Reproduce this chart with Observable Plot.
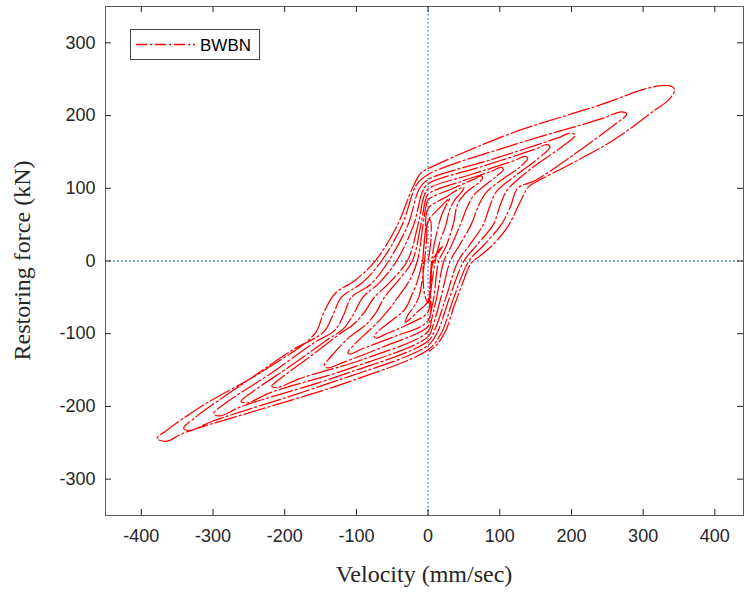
<!DOCTYPE html>
<html>
<head>
<meta charset="utf-8">
<script src="https://cdn.jsdelivr.net/npm/d3@7"></script>
<script src="https://cdn.jsdelivr.net/npm/@observablehq/plot@0.6"></script>
<style>
  body { margin: 0; background: #fff; }
  #chart { width: 744px; height: 594px; }
</style>
</head>
<body>
<div id="chart"></div>
<script>
// Tick values and series name
const xTicks = [-400, -300, -200, -100, 0, 100, 200, 300, 400];
const yTicks = [-300, -200, -100, 0, 100, 200, 300];
const seriesName = "BWBN";

// Restoring force (kN) against velocity (mm/sec), as [velocity, force] pairs,
// one array per hysteresis cycle, in time order.
const startup = [[0,0],[4,30],[3,57],[-1,52],[-6,20],[-7,-15],[-5,-45],[0,-58],[4,-40],[6,-5],[20,20],[6,0],[0,-55]];
const loop1 = [[-15,-70],[-28,-82],[-32,-84],[-29,-76],[-20,-63],[-13,-50],[-8,-25],[-5,0],[-2,30],[0,55],[15,72],[27,84],[30,86],[27,80],[20,66],[15,50],[9,25],[5,0],[2,-40],[0,-70]];
const loop2 = [[-30,-88],[-60,-101],[-72,-106],[-75,-104],[-70,-97],[-55,-85],[-32,-66],[-24,-50],[-14,-25],[-8,0],[-4,40],[0,72],[25,88],[45,100],[50,101],[46,94],[38,85],[30,70],[25,50],[16,25],[10,0],[4,-40],[0,-82]];
const loop3 = [[-50,-105],[-95,-122],[-108,-128],[-112,-126],[-105,-117],[-85,-98],[-68,-82],[-55,-67],[-42,-50],[-25,-25],[-15,0],[-7,50],[-3,75],[0,84],[35,100],[65,113],[74,117],[76,114],[70,107],[55,96],[42,80],[35,50],[25,20],[15,0],[8,-50],[3,-75],[0,-90]];
const loop4 = [[-60,-117],[-120,-140],[-140,-147],[-145,-144],[-136,-132],[-110,-105],[-85,-86],[-72,-70],[-61,-50],[-40,-25],[-22,0],[-10,50],[-4,82],[0,92],[45,109],[90,124],[102,129],[105,126],[96,117],[78,103],[65,92],[55,75],[45,50],[32,20],[22,0],[12,-50],[5,-80],[0,-97]];
const loop5 = [[-90,-135],[-180,-162],[-210,-174],[-218,-172],[-205,-161],[-160,-128],[-120,-98],[-105,-88],[-90,-72],[-75,-50],[-52,-28],[-29,0],[-14,50],[-6,88],[0,99],[60,119],[120,138],[135,144],[139,141],[128,129],[100,110],[80,93],[70,75],[60,50],[44,22],[31,0],[18,-50],[7,-88],[0,-104]];
const loop6 = [[-110,-148],[-220,-181],[-252,-195],[-261,-193],[-245,-180],[-190,-143],[-140,-108],[-118,-93],[-105,-75],[-91,-50],[-68,-30],[-44,0],[-20,50],[-8,95],[0,106],[75,130],[150,154],[165,160],[170,157],[155,142],[120,116],[95,95],[86,75],[77,50],[58,22],[42,0],[25,-50],[10,-93],[0,-110]];
const loop7 = [[-130,-160],[-260,-200],[-290,-213],[-299,-210],[-282,-195],[-220,-155],[-160,-113],[-130,-95],[-118,-75],[-107,-50],[-80,-32],[-55,0],[-28,50],[-12,100],[0,112],[90,140],[180,169],[199,176],[205,173],[188,158],[145,128],[110,97],[100,75],[91,50],[68,22],[50,0],[30,-50],[13,-98],[0,-116]];
const loop8 = [[-150,-172],[-300,-220],[-333,-233],[-341,-230],[-322,-213],[-260,-170],[-190,-123],[-145,-97],[-133,-75],[-121,-50],[-92,-30],[-65,0],[-36,50],[-16,105],[0,119],[120,160],[240,195],[270,205],[277,202],[258,186],[200,144],[150,111],[125,100],[115,75],[102,50],[78,22],[57,0],[36,-50],[18,-100],[0,-122]];
const loop9 = [[-113,-167],[-227,-202],[-342,-237],[-365,-248],[-378,-244],[-365,-233],[-313,-198],[-228,-150],[-158,-100],[-146,-72],[-130,-45],[-101,-26],[-73,1],[-44,47],[-21,102],[-10,121],[2,128],[117,176],[232,212],[317,240],[340,240],[344,235],[336,222],[317,208],[260,167],[202,135],[151,109],[140,102],[128,80],[111,47],[88,20],[71,6],[60,-3],[48,-31],[36,-63],[25,-95],[14,-113],[2,-124]];

const response = [startup, loop1, loop2, loop3, loop4, loop5, loop6, loop7, loop8, loop9]
  .flat()
  .map(([v, f]) => ({velocity: v, force: f}));

// Layout
const W = 744, H = 594;
const mL = 105, mR = 1, mT = 6, mB = 79;
const innerW = W - mL - mR, innerH = H - mT - mB;
const tickLen = 6;
const ink = "#262626";
const zeroBlue = "#1f80c8";
const fmt = d => String(d);
const sans = "'Liberation Sans', Arial, sans-serif";
const serif = "'Liberation Serif', 'Times New Roman', serif";

const chart = Plot.plot({
  width: W,
  height: H,
  marginLeft: mL,
  marginRight: mR,
  marginTop: mT,
  marginBottom: mB,
  x: {domain: [-450, 440]},
  y: {domain: [-350, 350]},
  style: {
    fontFamily: sans,
    fontSize: "18px",
    color: ink,
    background: "#fff"
  },
  marks: [
    // dotted zero lines
    Plot.ruleX([0], {stroke: zeroBlue, strokeWidth: 1.3, strokeDasharray: "1.5,2.5"}),
    Plot.ruleY([0], {stroke: zeroBlue, strokeWidth: 1.3, strokeDasharray: "1.5,2.5"}),
    // hysteresis response
    Plot.line(response, {
      x: "velocity",
      y: "force",
      stroke: "#ff0000",
      strokeWidth: 1.25,
      strokeDasharray: "22,3,2,3",
      curve: "catmull-rom"
    }),
    // inward ticks on all four sides
    Plot.tickX(xTicks, {x: d => d, insetTop: innerH - tickLen, stroke: ink}),
    Plot.tickX(xTicks, {x: d => d, insetBottom: innerH - tickLen, stroke: ink}),
    Plot.tickY(yTicks, {y: d => d, insetRight: innerW - tickLen, stroke: ink}),
    Plot.tickY(yTicks, {y: d => d, insetLeft: innerW - tickLen, stroke: ink}),
    Plot.axisX({ticks: xTicks, tickSize: 0, tickPadding: 14, tickFormat: fmt, label: null, fontSize: 18}),
    Plot.axisY({ticks: yTicks, tickSize: 0, tickPadding: 10, tickFormat: fmt, label: null, fontSize: 18}),
    Plot.frame({stroke: ink, strokeOpacity: 0.75})
  ]
});

const svg = d3.select(chart);

// axis titles
svg.append("text")
  .attr("x", mL + innerW / 2)
  .attr("y", 582)
  .attr("text-anchor", "middle")
  .attr("fill", ink)
  .style("font-family", serif)
  .style("font-size", "24px")
  .text("Velocity (mm/sec)");

svg.append("text")
  .attr("transform", `translate(30,${mT + innerH / 2}) rotate(-90)`)
  .attr("text-anchor", "middle")
  .attr("fill", ink)
  .style("font-family", serif)
  .style("font-size", "24px")
  .text("Restoring force (kN)");

// legend box
const lg = svg.append("g").attr("text-anchor", "start");
lg.append("rect")
  .attr("x", 130.5).attr("y", 29.5)
  .attr("width", 129).attr("height", 30)
  .attr("fill", "#fff").attr("stroke", ink).attr("stroke-opacity", 0.85);
lg.append("line")
  .attr("x1", 136).attr("x2", 195)
  .attr("y1", 44.5).attr("y2", 44.5)
  .attr("stroke", "#ff0000").attr("stroke-width", 1.3)
  .attr("stroke-dasharray", "11,3,2,3");
lg.append("text")
  .attr("x", 200).attr("y", 50.5)
  .attr("text-anchor", "start")
  .attr("fill", "#000")
  .style("font-family", sans)
  .style("font-size", "17px")
  .text(seriesName);

document.getElementById("chart").appendChild(chart);
</script>
</body>
</html>
